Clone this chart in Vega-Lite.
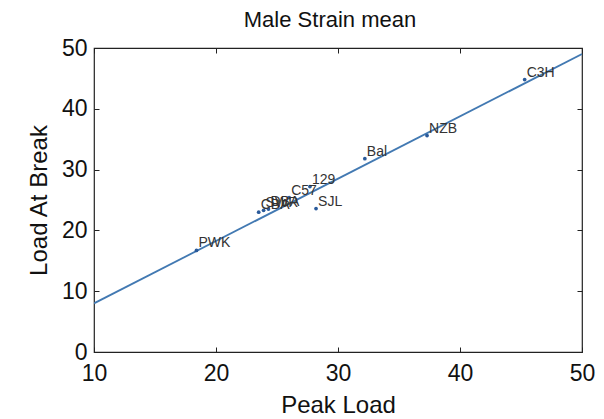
{
  "$schema": "https://vega.github.io/schema/vega-lite/v6.json",
  "autosize": "none",
  "width": 488,
  "height": 304,
  "padding": {"left": 94, "top": 48, "right": 22, "bottom": 67},
  "background": "white",
  "config": {
    "font": "Liberation Sans",
    "view": {"stroke": "#222", "strokeWidth": 1.2},
    "axis": {"grid": false, "domain": false, "labelFlush": false, "labelFont": "Liberation Sans", "titleFont": "Liberation Sans", "labelColor": "#111", "titleColor": "#111", "titleFontWeight": "normal", "tickColor": "#222", "tickSize": -5, "labelFontSize": 23, "titleFontSize": 24}
  },
  "title": {"text": "Male Strain mean", "fontSize": 22, "fontWeight": "normal", "font": "Liberation Sans", "color": "#111", "offset": 5, "dx": -8},
  "resolve": {"scale": {"x": "independent", "y": "independent"}, "axis": {"x": "independent", "y": "independent"}},
  "datasets": {
    "pts": [
      {"strain": "PWK", "peak": 18.4, "brk": 16.7},
      {"strain": "CBA", "peak": 23.5, "brk": 23.0},
      {"strain": "SWR", "peak": 23.9, "brk": 23.3},
      {"strain": "DBA", "peak": 24.3, "brk": 23.5},
      {"strain": "C57", "peak": 26.0, "brk": 25.4},
      {"strain": "129", "peak": 27.7, "brk": 27.2},
      {"strain": "SJL", "peak": 28.2, "brk": 23.6},
      {"strain": "Bal", "peak": 32.2, "brk": 31.8},
      {"strain": "NZB", "peak": 37.3, "brk": 35.6},
      {"strain": "C3H", "peak": 45.3, "brk": 44.8}
    ],
    "fit": [
      {"peak": 10, "brk": 8.0},
      {"peak": 50, "brk": 49.0}
    ]
  },
  "layer": [
    {
      "data": {"name": "fit"},
      "mark": {"type": "line", "color": "#4279b2", "strokeWidth": 1.8, "clip": true},
      "encoding": {
        "x": {"field": "peak", "type": "quantitative", "scale": {"domain": [10, 50], "nice": false}, "axis": {"title": "Peak Load", "values": [10, 20, 30, 40, 50], "labelPadding": 15, "titlePadding": 8}},
        "y": {"field": "brk", "type": "quantitative", "scale": {"domain": [0, 50], "nice": false}, "axis": {"title": "Load At Break", "values": [0, 10, 20, 30, 40, 50], "labelPadding": 12, "titlePadding": 10}}
      }
    },
    {
      "data": {"name": "pts"},
      "mark": {"type": "point", "filled": true, "size": 14, "color": "#2a5a9a", "opacity": 1},
      "encoding": {
        "x": {"field": "peak", "type": "quantitative", "scale": {"domain": [10, 50], "nice": false}, "axis": {"orient": "top", "title": null, "labels": false, "values": [10, 20, 30, 40, 50]}},
        "y": {"field": "brk", "type": "quantitative", "scale": {"domain": [0, 50], "nice": false}, "axis": {"orient": "right", "title": null, "labels": false, "values": [0, 10, 20, 30, 40, 50]}}
      }
    },
    {
      "data": {"name": "pts"},
      "mark": {"type": "text", "align": "left", "baseline": "alphabetic", "dx": 2, "dy": -3, "fontSize": 14, "color": "#333"},
      "encoding": {
        "x": {"field": "peak", "type": "quantitative", "scale": {"domain": [10, 50], "nice": false}, "axis": null},
        "y": {"field": "brk", "type": "quantitative", "scale": {"domain": [0, 50], "nice": false}, "axis": null},
        "text": {"field": "strain"}
      }
    }
  ]
}
